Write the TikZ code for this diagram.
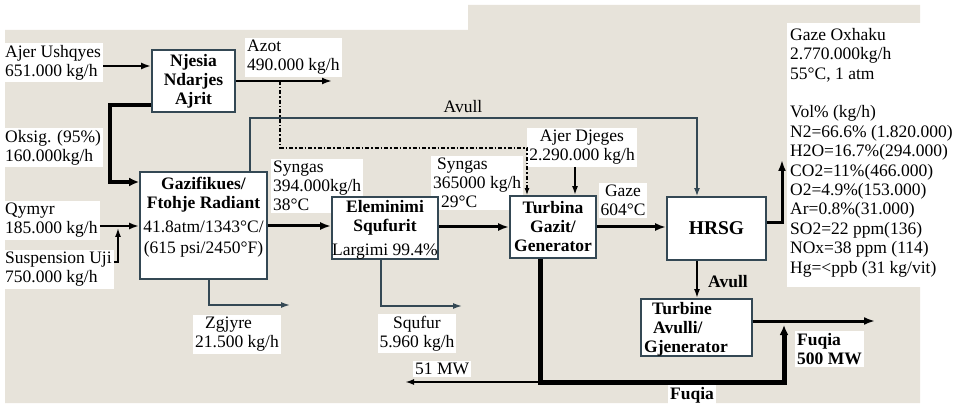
\documentclass[tikz,border=0pt]{standalone}
\usepackage{fontspec}
\setmainfont{Liberation Serif}
\usetikzlibrary{arrows.meta}
\definecolor{beige}{RGB}{231,227,218}
\definecolor{slate}{RGB}{52,72,84}
\begin{document}
\begin{tikzpicture}[x=1pt,y=-1pt,
  every node/.style={font=\fontsize{17.5}{19}\selectfont},
  box/.style={draw=slate, line width=1.8pt, fill=white, inner sep=0pt, align=center, font=\fontsize{17.5}{19}\selectfont\bfseries},
  btxt/.style={inner sep=0pt, align=center, anchor=north, font=\fontsize{17.5}{19}\selectfont\bfseries},
  lbl/.style={fill=white, inner sep=2pt, align=left, anchor=north west},
  clbl/.style={fill=white, inner sep=2pt, align=center, anchor=north},
  thk/.style={line width=3pt, -{Latex[length=11pt,width=8pt]}},
  thk2/.style={line width=2.4pt, -{Latex[length=10pt,width=7pt]}},
  med/.style={line width=1.8pt, -{Latex[length=9pt,width=6pt]}},
  thn/.style={draw=slate, line width=1.4pt, -{Latex[length=9pt,width=6pt]}},
  avl/.style={draw=slate, line width=1.4pt, -{Latex[length=8pt,width=6pt]}},
  dd/.style={line width=1.6pt, dash pattern=on 4pt off 2pt on 1.5pt off 2pt, -{Latex[length=7pt,width=5pt]}},
  oxy/.style={line width=4.5pt, line join=miter, -{Latex[length=10pt,width=9pt]}},
  pow/.style={line width=5pt, line join=miter, -{Latex[length=10pt,width=9pt]}},
]
\useasboundingbox (0,0) rectangle (961,406);
% background
\fill[beige] (5,30) -- (468,30) -- (468,5) -- (920,5) -- (920,403) -- (5,403) -- cycle;
\fill[white] (787,23) rectangle (961,287);

% labels
\node[lbl] (au) at (3,43) {Ajer Ushqyes\\651.000 kg/h};
\node[lbl] (azot) at (245,38) {Azot\\490.000 kg/h};
\node[lbl] (oks) at (3,128) {Oksig. (95\%)\\160.000kg/h};
\node[lbl] (qym) at (3,201) {Qymyr\\185.000 kg/h};
\node[lbl] (sus) at (3,250) {Suspension Uji\\750.000 kg/h};
\node[lbl] (zgj) at (193,315) {\hspace*{10pt}Zgjyre\\21.500 kg/h};
\node[lbl] (syn1) at (271,159) {Syngas\\394.000kg/h\\38°C};
\node[lbl] (syn2) at (431,156) {\hspace*{4pt}Syngas\\365000 kg/h\\\hspace*{8pt}29°C};
\node[clbl] (ajd) at (582,128) {Ajer Djeges\\2.290.000 kg/h};
\node[clbl] (gaze) at (623,183) {Gaze\\604°C};
\node[clbl] (squ) at (417,314) {Squfur\\5.960 kg/h};
\node[lbl] (mw51) at (413,361) {51 MW};
\node[clbl, anchor=south, font=\fontsize{17.5}{19}\selectfont\bfseries] (fuq) at (692,405) {Fuqia};
\node[clbl, fill=none] (avull1) at (463,98) {Avull};
\node[lbl, fill=none, font=\fontsize{17.5}{19}\selectfont\bfseries] (avull2) at (706,273) {Avull};
\node[lbl, font=\fontsize{17.5}{19}\selectfont\bfseries] (fuq500) at (795,331) {Fuqia\\500 MW};
\node[anchor=north west, inner sep=0pt, align=left, font=\fontsize{17.5}{19.4}\selectfont] (gox) at (790,28)
  {Gaze Oxhaku\\2.770.000kg/h\\55°C, 1 atm\\[19.4pt]Vol\% (kg/h)\\N2=66.6\% (1.820.000)\\H2O=16.7\%(294.000)\\CO2=11\%(466.000)\\O2=4.9\%(153.000)\\Ar=0.8\%(31.000)\\SO2=22 ppm(136)\\NOx=38 ppm (114)\\Hg=<ppb (31 kg/vit)};

% boxes
\node[box, minimum width=83pt, minimum height=62pt] (nja) at (193.5,81) {Njesia\\Ndarjes\\Ajrit};
\node[box, minimum width=127pt, minimum height=107pt] (gaz) at (203.5,225.5) {};
\node[btxt] (gazt) at (203.5,177) {Gazifikues/\\Ftohje Radiant\\[5pt]\mdseries 41.8atm/1343°C/\\[2pt]\mdseries (615 psi/2450°F)};
\node[box, minimum width=106pt, minimum height=62pt] (ele) at (385,228) {};
\node[btxt] (elet) at (385,200) {Eleminimi\\Squfurit\\[5pt]\mdseries Largimi 99.4\%};
\node[box, minimum width=86pt, minimum height=62pt] (tur) at (553,227) {Turbina\\Gazit/\\Generator};
\node[box, minimum width=99pt, minimum height=63pt, font=\fontsize{19.5}{21}\selectfont\bfseries] (hrsg) at (716.5,228.5) {HRSG};
\node[box, minimum width=111pt, minimum height=57pt] (tav) at (696.5,327.5) {};
\node[btxt, anchor=north west, align=left] (tavt) at (644,302) {\hspace*{8pt}Turbine\\\hspace*{9pt}Avulli/\\Gjenerator};

% connectors
\draw[thk2] (au.east |- 0,66) -- (nja.west |- 0,66);
\coordinate (azE) at (332,81);
\draw[thk2] (nja.east) -- (azE);
\coordinate (ddA) at (280,81);
\draw[dd] (ddA) -- (280,148) -- (527,148) -- (tur.north -| 527,0);
\draw[oxy] (nja.south west |- 0,105) -- (110,105) -- (110,182) -- (gaz.west |- 0,182);
\draw[thk2] (qym.east |- 0,226) -- (gaz.west |- 0,226);
\coordinate (susT) at (118,228);
\draw[thn, draw=black, line width=1.5pt] (sus.east |- 0,262) -- (118,262) -- (susT);
\draw[thk] (gaz.east |- 0,226) -- (ele.west |- 0,226);
\coordinate (zgjE) at (290,305);
\draw[thn] (gaz.south -| 209,0) -- (209,305) -- (zgjE);
\draw[avl] (gaz.north -| 250,0) -- (250,118) -- (697,118) -- (hrsg.north -| 697,0);
\draw[thk] (ele.east |- 0,227) -- (tur.west |- 0,227);
\coordinate (squE) at (462,306);
\draw[thn] (ele.south -| 381,0) -- (381,306) -- (squE);
\draw[med] (ajd.south -| 575,0) -- (tur.north -| 575,0);
\draw[thk] (tur.east |- 0,227) -- (hrsg.west |- 0,227);
\coordinate (outT) at (782,160);
\draw[thk, line join=miter] (hrsg.east |- 0,223) -- (782,223) -- (outT);
\draw[med] (hrsg.south -| 697,0) -- (tav.north -| 697,0);
\coordinate (tavE) at (875,321);
\draw[thk] (tav.east |- 0,321) -- (tavE);
\coordinate (powT) at (784,325);
\draw[pow] (tur.south -| 540,0) -- (540,382) -- (784,382) -- (powT);
\coordinate (mwS) at (540,382);
\coordinate (mwE) at (405,382);
\draw[line width=2pt, -{Latex[length=9pt,width=6pt]}] (mwS) -- (mwE);
\end{tikzpicture}
\end{document}
